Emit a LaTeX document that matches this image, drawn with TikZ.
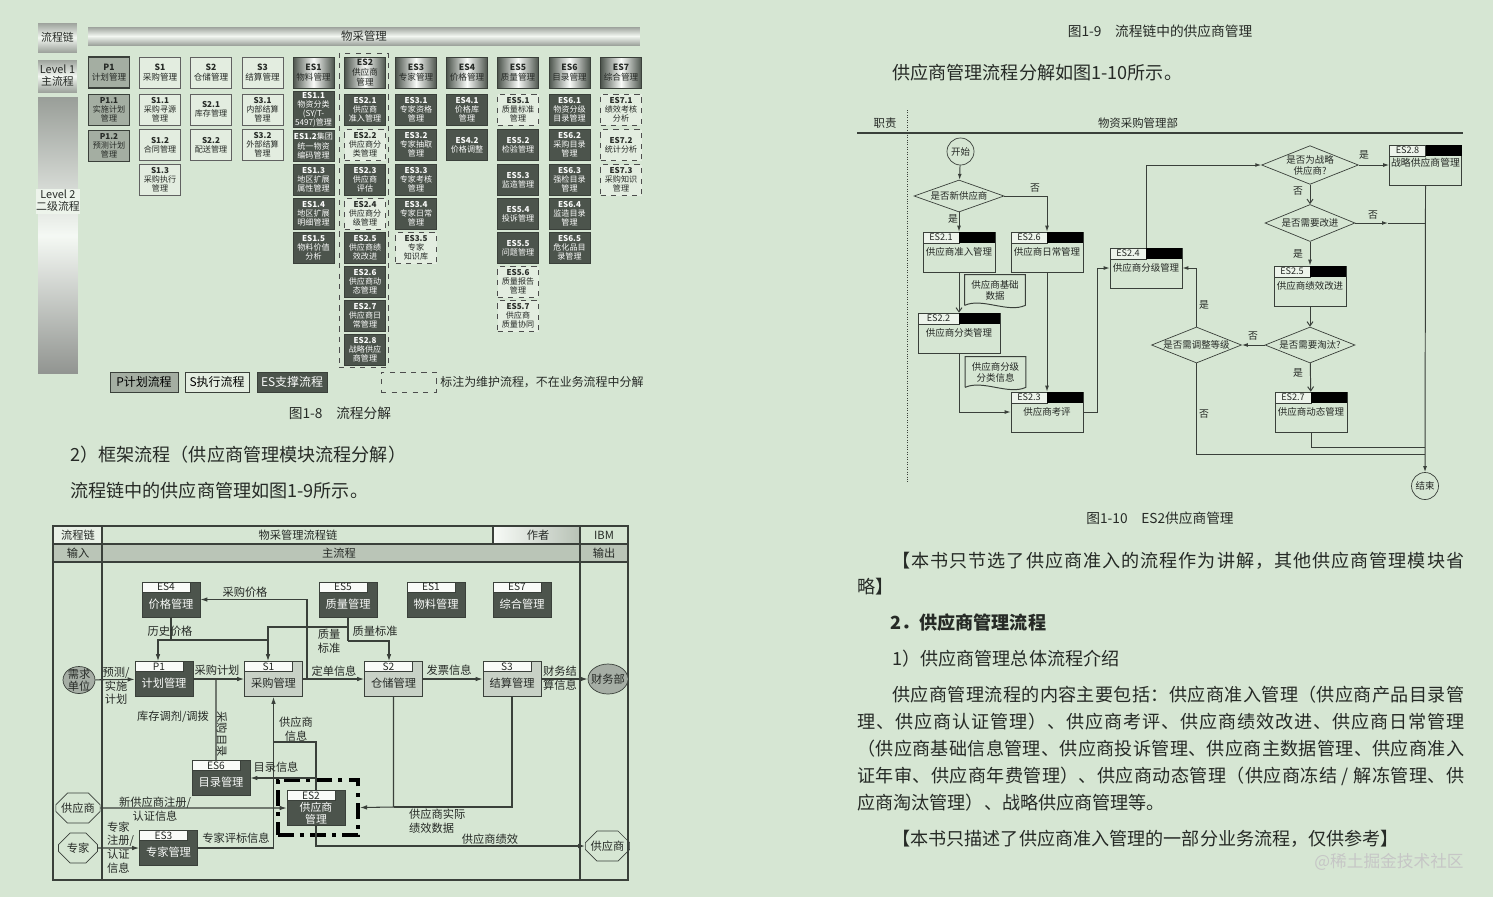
\documentclass[tikz,border=0pt]{standalone}
\usepackage{fontspec}
\setmainfont{Noto Sans CJK SC}
\usetikzlibrary{arrows.meta,positioning,shapes.geometric,shapes.misc,calc}

\definecolor{bgc}{HTML}{D6E6D3}
\definecolor{linec}{HTML}{3A403A}
\definecolor{esdark}{HTML}{4C544C}
\definecolor{pgray}{HTML}{A4AEA2}
\definecolor{sfill}{HTML}{E3EDE0}
\definecolor{hgray}{HTML}{BAC5B7}
\definecolor{sgray}{HTML}{C8D1C6}
\definecolor{txtc}{HTML}{262A26}

\ExplSyntaxOn
\NewDocumentCommand \spreadline { m m }
  { \makebox [#1] [s] { \tl_map_inline:nn {#2} { ##1 \hskip 0pt plus 1fil } \unskip } }
\ExplSyntaxOff

\begin{document}
\begin{tikzpicture}[x=0.02cm, y=-0.02cm,
  % Fig 1-8
  lvone/.style={rectangle, draw=linec, minimum width=0.82cm, minimum height=0.62cm,
    inner sep=0.4pt, align=center, text=txtc, font=\fontsize{4.9}{5.7}\selectfont},
  lvtwo/.style={lvone, font=\fontsize{4.6}{5.2}\selectfont},
  pbox/.style={fill=pgray},
  sbox/.style={fill=sfill, draw=gray!75!black},
  esbox/.style={fill=esdark, text=white!90!bgc},
  esgrad/.style={left color=esdark, right color=esdark, middle color=white!85!bgc},
  mbox/.style={fill=sfill, draw=gray!60!black, dashed},
  sidetext/.style={rectangle, minimum width=0.78cm, align=center, inner sep=0pt,
    text=txtc, font=\fontsize{6.2}{6.8}\selectfont},
  sidebox/.style={sidetext,
    top color=gray!65!bgc, bottom color=gray!65!bgc, middle color=white!70!bgc},
  lgd/.style={rectangle, draw=linec, minimum height=0.4cm, inner sep=0pt,
    font=\fontsize{6.8}{7.5}\selectfont},
  % Fig 1-9
  cbox/.style={rectangle, draw=linec, minimum width=1.16cm, minimum height=0.7cm,
    inner sep=0pt, font=\fontsize{6.4}{7.4}\selectfont},
  cdark/.style={cbox, fill=esdark, text=white!88!bgc, text height=0.35cm, text depth=0pt},
  clight/.style={cbox, fill=sgray, text=txtc, text height=0.35cm, text depth=0pt},
  chead/.style={rectangle, anchor=north west, draw=linec, fill=white!85!bgc,
    minimum width=0.96cm, minimum height=0.2cm, inner sep=0pt, text=txtc,
    font=\fontsize{5.8}{6}\selectfont},
  cend/.style={ellipse, draw=linec, fill=gray!55!bgc, inner sep=-2pt, align=center,
    text=txtc, font=\fontsize{6.4}{7}\selectfont},
  coct/.style={chamfered rectangle, chamfered rectangle xsep=3pt, draw=linec,
    minimum width=0.78cm, minimum height=0.6cm, inner sep=0pt, text=txtc,
    font=\fontsize{6.4}{7}\selectfont},
  es2frame/.style={rectangle, draw=black, line width=2.3pt,
    dash pattern=on 9pt off 3.5pt on 2.3pt off 3.5pt,
    minimum width=1.6cm, minimum height=1.1cm},
  clabel/.style={inner sep=0.5pt, align=center, text=txtc,
    font=\fontsize{6.4}{7.8}\selectfont},
  cline/.style={draw=linec, line width=0.6pt},
  carrow/.style={cline, -{Latex[length=4pt,width=2.6pt]}},
  % Fig 1-10
  fbox/.style={rectangle, draw=linec, minimum width=1.44cm, minimum height=0.8cm,
    inner sep=0pt, text=txtc, font=\fontsize{5.4}{6}\selectfont},
  fhead/.style={rectangle, anchor=north west, draw=linec, fill=white!55!bgc,
    minimum width=0.72cm, minimum height=0.22cm, inner sep=0pt, text=txtc,
    font=\fontsize{5.2}{5.5}\selectfont},
  fdia/.style={diamond, aspect=2.5, draw=linec, minimum width=1.8cm,
    minimum height=0.74cm, inner sep=0pt, align=center, text=txtc,
    font=\fontsize{5.4}{6.2}\selectfont},
  fcirc/.style={circle, draw=linec, minimum size=0.54cm, inner sep=0pt, text=txtc,
    font=\fontsize{5.4}{6}\selectfont},
  fdoc/.style={minimum width=1.2cm, minimum height=0.6cm, inner sep=0pt,
    align=center, text=txtc, font=\fontsize{5.4}{6.2}\selectfont},
  flabel/.style={inner sep=0.5pt, text=txtc, font=\fontsize{5.6}{6}\selectfont},
  fline/.style={draw=linec, line width=0.55pt},
  farrow/.style={fline, -{Latex[length=3.4pt,width=2.2pt]}},
  fvarrow/.style={fline, -{Straight Barb[length=2.4pt,width=3.4pt]}},
  % page text
  body/.style={anchor=west, inner sep=0pt, text=txtc,
    font=\fontsize{10.3}{12}\selectfont},
  capt/.style={inner sep=0pt, text=txtc, font=\fontsize{7.8}{9}\selectfont}
]
  \fill[bgc] (0,0) rectangle (1493,897);
  \useasboundingbox (0,0) rectangle (1493,897);

  % ---------- Fig 1-8 ----------
  \node[sidebox, minimum height=0.58cm] (flc) at (57.5,37.5) {流程链};
  \node[sidebox, minimum height=0.36cm, minimum width=11.04cm,
    font=\fontsize{6.5}{7}\selectfont] (fwc) at (364,36) {物采管理};
  \node[sidebox, minimum height=0.64cm] (flv1) at (57.5,76) {Level 1\\主流程};
  \node[rectangle, minimum width=0.8cm, minimum height=5.54cm,
    top color=gray!70!bgc, bottom color=gray!80!bgc, middle color=white!75!bgc]
    (flv2bar) at (58,235.5) {};
  \node[sidetext, fill=white!55!bgc, minimum height=0.5cm] (flv2)
    at (58,201) {Level 2\\二级流程};

  \node[draw=gray!60!black, dashed, minimum width=0.98cm, minimum height=6.28cm]
    (es2grp) at (363.5,210) {};

  \node[lvone, pbox, thick] (lp1) at (109,72.5) {\textbf{P1}\\计划管理};
  \node[lvone, sbox] (ls1) at (160,72.5) {\textbf{S1}\\采购管理};
  \node[lvone, sbox] (ls2) at (211,72.5) {\textbf{S2}\\仓储管理};
  \node[lvone, sbox] (ls3) at (262.5,72.5) {\textbf{S3}\\结算管理};
  \node[lvone, esgrad] (les1) at (313.5,72.5) {\textbf{ES1}\\物料管理};
  \node[lvone, esgrad] (les2) at (365,72.5) {\textbf{ES2}\\供应商\\管理};
  \node[lvone, esgrad] (les3) at (416,72.5) {\textbf{ES3}\\专家管理};
  \node[lvone, esgrad] (les4) at (467,72.5) {\textbf{ES4}\\价格管理};
  \node[lvone, esgrad] (les5) at (518,72.5) {\textbf{ES5}\\质量管理};
  \node[lvone, esgrad] (les6) at (569.5,72.5) {\textbf{ES6}\\目录管理};
  \node[lvone, esgrad] (les7) at (621,72.5) {\textbf{ES7}\\综合管理};

  \node[lvtwo, pbox] (p11) at (109,109.5) {\textbf{P1.1}\\实施计划\\管理};
  \node[lvtwo, pbox] (p12) at (109,146) {\textbf{P1.2}\\预测计划\\管理};

  \node[lvtwo, sbox] (s11) at (160,109.5) {\textbf{S1.1}\\采购寻源\\管理};
  \node[lvtwo, sbox] (s12) at (160,145) {\textbf{S1.2}\\合同管理};
  \node[lvtwo, sbox] (s13) at (160,180) {\textbf{S1.3}\\采购执行\\管理};
  \node[lvtwo, sbox] (s21) at (211,109.5) {\textbf{S2.1}\\库存管理};
  \node[lvtwo, sbox] (s22) at (211,145) {\textbf{S2.2}\\配送管理};
  \node[lvtwo, sbox] (s31) at (262.5,109.5) {\textbf{S3.1}\\内部结算\\管理};
  \node[lvtwo, sbox] (s32) at (262.5,145) {\textbf{S3.2}\\外部结算\\管理};

  \node[lvtwo, esbox] (es11) at (313.5,109.5) {\textbf{ES1.1}\\物资分类\\(SY/T-\\5497)管理};
  \node[lvtwo, esbox] (es12) at (313.5,146) {\textbf{ES1.2}集团\\统一物资\\编码管理};
  \node[lvtwo, esbox] (es13) at (313.5,180) {\textbf{ES1.3}\\地区扩展\\属性管理};
  \node[lvtwo, esbox] (es14) at (313.5,214) {\textbf{ES1.4}\\地区扩展\\明细管理};
  \node[lvtwo, esbox] (es15) at (313.5,248) {\textbf{ES1.5}\\物料价值\\分析};

  \node[lvtwo, esbox] (es21) at (365,109.5) {\textbf{ES2.1}\\供应商\\准入管理};
  \node[lvtwo, mbox] (es22) at (365,145) {\textbf{ES2.2}\\供应商分\\类管理};
  \node[lvtwo, esbox] (es23) at (365,180) {\textbf{ES2.3}\\供应商\\评估};
  \node[lvtwo, mbox] (es24) at (365,214) {\textbf{ES2.4}\\供应商分\\级管理};
  \node[lvtwo, esbox] (es25) at (365,248) {\textbf{ES2.5}\\供应商绩\\效改进};
  \node[lvtwo, esbox] (es26) at (365,282) {\textbf{ES2.6}\\供应商动\\态管理};
  \node[lvtwo, esbox] (es27) at (365,316) {\textbf{ES2.7}\\供应商日\\常管理};
  \node[lvtwo, esbox] (es28) at (365,350) {\textbf{ES2.8}\\战略供应\\商管理};

  \node[lvtwo, esbox] (es31) at (416,109.5) {\textbf{ES3.1}\\专家资格\\管理};
  \node[lvtwo, esbox] (es32) at (416,145) {\textbf{ES3.2}\\专家抽取\\管理};
  \node[lvtwo, esbox] (es33) at (416,180) {\textbf{ES3.3}\\专家考核\\管理};
  \node[lvtwo, esbox] (es34) at (416,214) {\textbf{ES3.4}\\专家日常\\管理};
  \node[lvtwo, mbox] (es35) at (416,248) {\textbf{ES3.5}\\专家\\知识库};

  \node[lvtwo, esbox] (es41) at (467,109.5) {\textbf{ES4.1}\\价格库\\管理};
  \node[lvtwo, esbox] (es42) at (467,145) {\textbf{ES4.2}\\价格调整};

  \node[lvtwo, mbox] (es51) at (518,109.5) {\textbf{ES5.1}\\质量标准\\管理};
  \node[lvtwo, esbox] (es52) at (518,145) {\textbf{ES5.2}\\检验管理};
  \node[lvtwo, esbox] (es53) at (518,180) {\textbf{ES5.3}\\监造管理};
  \node[lvtwo, esbox] (es54) at (518,214) {\textbf{ES5.4}\\投诉管理};
  \node[lvtwo, esbox] (es55) at (518,248) {\textbf{ES5.5}\\问题管理};
  \node[lvtwo, mbox] (es56) at (518,282) {\textbf{ES5.6}\\质量报告\\管理};
  \node[lvtwo, mbox] (es57) at (518,316) {\textbf{ES5.7}\\供应商\\质量协同};

  \node[lvtwo, esbox] (es61) at (569.5,109.5) {\textbf{ES6.1}\\物资分级\\目录管理};
  \node[lvtwo, esbox] (es62) at (569.5,145) {\textbf{ES6.2}\\采购目录\\管理};
  \node[lvtwo, esbox] (es63) at (569.5,180) {\textbf{ES6.3}\\强检目录\\管理};
  \node[lvtwo, esbox] (es64) at (569.5,214) {\textbf{ES6.4}\\监造目录\\管理};
  \node[lvtwo, esbox] (es65) at (569.5,248) {\textbf{ES6.5}\\危化品目\\录管理};

  \node[lvtwo, mbox] (es71) at (621,109.5) {\textbf{ES7.1}\\绩效考核\\分析};
  \node[lvtwo, mbox] (es72) at (621,145) {\textbf{ES7.2}\\统计分析};
  \node[lvtwo, mbox] (es73) at (621,180) {\textbf{ES7.3}\\采购知识\\管理};

  % legend
  \node[lgd, fill=pgray, minimum width=1.36cm] (lgp) at (144,382) {P计划流程};
  \node[lgd, fill=sfill, minimum width=1.28cm] (lgs) at (217,382) {S执行流程};
  \node[lgd, fill=esdark, text=white!90!bgc, minimum width=1.4cm] (lges) at (292,382) {ES支撑流程};
  \node[lgd, dashed, draw=gray!60!black, minimum width=1.1cm] (lgm) at (408.5,382) {};
  \node[anchor=west, inner sep=0pt, text=txtc, font=\fontsize{6.8}{7.5}\selectfont]
    (lgt) at (440,382) {标注为维护流程，不在业务流程中分解};

  \node[capt] (cap18) at (340,413) {图1-8\quad 流程分解};
  \node[body] (tl1) at (70,455) {2）框架流程（供应商管理模块流程分解）};
  \node[body] (tl2) at (70,491) {流程链中的供应商管理如图1-9所示。};

  % ---------- Fig 1-9 ----------
  \fill[white!45!bgc] (53,526) rectangle (102,544);
  \shade[left color=white!80!bgc, right color=gray!35!bgc] (493,526) rectangle (580,544);
  \fill[hgray] (53,544) rectangle (628,562);
  \draw[linec, line width=0.8pt] (53,526) rectangle (628,880);
  \draw[linec, line width=0.6pt] (53,544) -- (628,544);
  \draw[linec, line width=0.6pt] (53,562) -- (628,562);
  \draw[linec, line width=0.6pt] (493,526) -- (493,544);
  \draw[linec, line width=1.2pt] (102,526) -- (102,880);
  \draw[linec, line width=1.2pt] (580,526) -- (580,880);

  \node[clabel] (hlc) at (78,535) {流程链};
  \node[clabel] (hwc) at (298,535) {物采管理流程链};
  \node[clabel] (hau) at (538,535) {作者};
  \node[clabel] (hibm) at (604,535) {IBM};
  \node[clabel] (hin) at (78,553) {输入};
  \node[clabel] (hmain) at (339,553) {主流程};
  \node[clabel] (hout) at (604,553) {输出};

  \node[cdark] (ces4) at (171,599.5) {价格管理};
  \node[chead] (ces4h) at (ces4.north west) {ES4};
  \node[cdark] (ces5) at (348,599.5) {质量管理};
  \node[chead] (ces5h) at (ces5.north west) {ES5};
  \node[cdark] (ces1) at (436,599.5) {物料管理};
  \node[chead] (ces1h) at (ces1.north west) {ES1};
  \node[cdark] (ces7) at (522,599.5) {综合管理};
  \node[chead] (ces7h) at (ces7.north west) {ES7};

  \node[cdark] (cp1) at (164,679) {计划管理};
  \node[chead] (cp1h) at (cp1.north west) {P1};
  \node[clight] (cs1) at (273.5,679) {采购管理};
  \node[chead] (cs1h) at (cs1.north west) {S1};
  \node[clight] (cs2) at (393.5,679) {仓储管理};
  \node[chead] (cs2h) at (cs2.north west) {S2};
  \node[clight] (cs3) at (512,679) {结算管理};
  \node[chead] (cs3h) at (cs3.north west) {S3};

  \node[cdark] (ces6) at (221,778) {目录管理};
  \node[chead] (ces6h) at (ces6.north west) {ES6};
  \node[cbox, fill=esdark] (ces2) at (316,808) {};
  \node[chead] (ces2h) at (ces2.north west) {ES2};
  \node[clabel, text=white!88!bgc, font=\fontsize{6.2}{7}\selectfont] (ces2t)
    at ([yshift=-0.1cm]ces2.center) {供应商\\管理};
  \node[es2frame] (ces2f) at (318,807.5) {};
  \node[cdark] (ces3) at (168.5,848) {专家管理};
  \node[chead] (ces3h) at (ces3.north west) {ES3};

  \node[cend, minimum width=0.64cm, minimum height=0.54cm] (cdem) at (79,680) {需求\\单位};
  \node[cend, minimum width=0.8cm, minimum height=0.6cm] (cfin) at (608,679) {财务部};
  \node[coct] (csup) at (78,808) {供应商};
  \node[coct] (cexp) at (78,848) {专家};
  \node[coct, minimum width=0.74cm] (csup2) at (607.5,846) {供应商};

  \coordinate (cj1) at (307,679);
  \coordinate (chp) at (171,640);
  \coordinate (chq) at (268,640);
  \coordinate (cqa) at (348,627);
  \coordinate (cqb) at (348,641);
  \coordinate (cjm) at (216,679);
  \coordinate (cji) at (273.5,742);
  \coordinate (cjc) at (316,778);
  \coordinate (cjp) at (393.5,807);

  \draw[carrow] (cj1) |- (ces4.east);
  \draw[cline] (ces4.south) -- (chp);
  \draw[carrow] (chp) -| ([xshift=-0.12cm]cp1.north);
  \draw[cline] (chp) -- (chq);
  \draw[cline] (ces5.south) -- (cqb);
  \draw[carrow] (cqa) -| ([xshift=-0.11cm]cs1.north);
  \draw[carrow] (cqb) -| ([xshift=-0.09cm]cs2.north);
  \draw[carrow] (cdem) -- (cp1);
  \draw[carrow] (cp1) -- (cs1);
  \draw[carrow] (cs1) -- (cs2);
  \draw[carrow] (cs2) -- (cs3);
  \draw[carrow] (cs3) -- (cfin);
  \draw[cline] (cjm) -- ([xshift=-0.1cm]ces6.north);
  \draw[carrow] (ces2.north) |- (cji) -- (cs1.south);
  \draw[cline] (ces3.east) -| (cji);
  \draw[carrow] (cjc) -- (ces6.east);
  \draw[carrow] (csup) -- (ces2);
  \draw[carrow] (cexp) -- (ces3);
  \draw[cline] (cs3.south) |- (cjp);
  \draw[carrow] (cs2.south) -- (cjp) -- (ces2f.east);
  \draw[carrow] (ces2.south) |- (csup2.west);

  \node[clabel] (lbcg) at (245,592) {采购价格};
  \node[clabel] (lbls) at (170,631) {历史价格};
  \node[clabel] (lbzl1) at (329,641) {质量\\标准};
  \node[clabel] (lbzl2) at (375,631) {质量标准};
  \node[clabel] (lbjh) at (217,670) {采购计划};
  \node[clabel] (lbdd) at (334,671) {定单信息};
  \node[clabel] (lbfp) at (449,670) {发票信息};
  \node[clabel] (lbcw) at (560,678) {财务结\\算信息};
  \node[clabel] (lbyc) at (116,686) {预测/\\实施\\计划};
  \node[clabel] (lbkc) at (173,717) {库存调剂/调拨};
  \node[clabel, rotate=-90] (lbml) at (222,734) {采购目录};
  \node[clabel] (lbgy) at (296,729) {供应商\\信息};
  \node[clabel] (lbmx) at (276,767) {目录信息};
  \node[clabel] (lbxz) at (155,809) {新供应商注册/\\认证信息};
  \node[clabel, anchor=west, align=left] (lbzj) at (106,847.5) {专家\\注册/\\认证\\信息};
  \node[clabel] (lbpb) at (236,838) {专家评标信息};
  \node[clabel, anchor=west, align=left] (lbsj) at (408,821) {供应商实际\\绩效数据};
  \node[clabel] (lbjx) at (490,839) {供应商绩效};

  % ---------- Fig 1-10 ----------
  \node[capt] (cap19) at (1160,31) {图1-9\quad 流程链中的供应商管理};
  \node[body] (tr1) at (892,73) {供应商管理流程分解如图1-10所示。};

  \node[flabel, font=\fontsize{6.5}{7}\selectfont] (fzz) at (885,123) {职责};
  \node[flabel, font=\fontsize{6.5}{7}\selectfont] (fbm) at (1138,123) {物资采购管理部};
  \draw[linec, line width=1pt] (857,133) -- (1463,133);
  \draw[linec, densely dotted] (907,110) -- (907,483);

  \node[fcirc] (fst) at (960.5,151.5) {开始};
  \node[fdia, minimum height=0.64cm] (fd1) at (959,196) {是否新供应商};

  \node[fbox] (fes21) at (959,252) {供应商准入管理};
  \node[fhead] (fes21h) at (fes21.north west) {ES2.1};
  \fill[black] (fes21h.north east) rectangle (fes21.east |- fes21h.south);
  \node[fbox] (fes26) at (1047,252) {供应商日常管理};
  \node[fhead] (fes26h) at (fes26.north west) {ES2.6};
  \fill[black] (fes26h.north east) rectangle (fes26.east |- fes26h.south);
  \node[fbox, minimum width=1.64cm] (fes22) at (959,333) {供应商分类管理};
  \node[fhead, minimum width=0.82cm] (fes22h) at (fes22.north west) {ES2.2};
  \fill[black] (fes22h.north east) rectangle (fes22.east |- fes22h.south);
  \node[fbox] (fes23) at (1047,412) {供应商考评};
  \node[fhead] (fes23h) at (fes23.north west) {ES2.3};
  \fill[black] (fes23h.north east) rectangle (fes23.east |- fes23h.south);
  \node[fbox] (fes24) at (1146,268) {供应商分级管理};
  \node[fhead] (fes24h) at (fes24.north west) {ES2.4};
  \fill[black] (fes24h.north east) rectangle (fes24.east |- fes24h.south);

  \node[fdoc] (fdoc1) at (995,290) {供应商基础\\数据};
  \draw[fline] (fdoc1.south west) -- (fdoc1.north west) -- (fdoc1.north east)
    -- (fdoc1.south east) .. controls +(-0.35cm,-0.16cm) and +(0.35cm,0.16cm) .. (fdoc1.south west);
  \node[fdoc] (fdoc2) at (995.5,372) {供应商分级\\分类信息};
  \draw[fline] (fdoc2.south west) -- (fdoc2.north west) -- (fdoc2.north east)
    -- (fdoc2.south east) .. controls +(-0.35cm,-0.16cm) and +(0.35cm,0.16cm) .. (fdoc2.south west);

  \node[fdia] (fd2) at (1310,165) {是否为战略\\供应商?};
  \node[fbox] (fes28) at (1425.5,165) {};
  \node[fhead] (fes28h) at (fes28.north west) {ES2.8};
  \fill[black] (fes28h.north east) rectangle (fes28.east |- fes28h.south);
  \node[flabel] (fes28t) at (1425.5,163) {战略供应商管理};
  \node[fdia] (fd3) at (1310,223) {是否需要改进};
  \node[fbox] (fes25) at (1310,286) {供应商绩效改进};
  \node[fhead] (fes25h) at (fes25.north west) {ES2.5};
  \fill[black] (fes25h.north east) rectangle (fes25.east |- fes25h.south);
  \node[fdia, minimum height=0.72cm] (fd4) at (1310,345) {是否需要淘汰?};
  \node[fdia, minimum height=0.72cm] (fd5) at (1196.5,345) {是否需调整等级};
  \node[fbox] (fes27) at (1311,412) {供应商动态管理};
  \node[fhead] (fes27h) at (fes27.north west) {ES2.7};
  \fill[black] (fes27h.north east) rectangle (fes27.east |- fes27h.south);
  \node[fcirc] (fend) at (1425,486) {结束};

  \coordinate (fk1) at (1097,412);
  \coordinate (fk2) at (1388,223);
  \coordinate (fk3) at (1425,223);
  \coordinate (fk4) at (1425,454);
  \coordinate (fk5) at (1425,447);

  \draw[farrow] (fst) -- (fd1);
  \draw[farrow] (fd1.south) -- (fes21.north);
  \draw[farrow] (fd1.east) -| (fes26.north);
  \draw[fvarrow] (fes21) -- (fes22);
  \draw[farrow] (fes22.south) |- (fes23.west);
  \draw[farrow] (fes26) -- (fes23);
  \draw[farrow] (fes23.east) -- (fk1) |- (fes24.west);
  \draw[farrow] (fes24.north) |- (fd2.west);
  \draw[farrow] (fd2) -- (fes28);
  \draw[fvarrow] (fd2) -- (fd3);
  \draw[farrow] (fd3.east) -- (fk2);
  \draw[fline] (fk2) -- (fk3);
  \draw[farrow] (fd3) -- (fes25);
  \draw[fvarrow] (fes25) -- (fd4);
  \draw[farrow] (fd4) -- (fd5);
  \draw[fvarrow] (fd4) -- (fes27);
  \draw[farrow] (fd5.north) |- (fes24.east);
  \draw[fline] (fd5.south) |- (fk4);
  \draw[fline] (fes27.south) |- (fk5);
  \draw[farrow] (fes28.south) -- (fend.north);

  \node[flabel] (fl1) at (953,219) {是};
  \node[flabel] (fl2) at (1035,188) {否};
  \node[flabel] (fl3) at (1364,155) {是};
  \node[flabel] (fl4) at (1298,191) {否};
  \node[flabel] (fl5) at (1373,215) {否};
  \node[flabel] (fl6) at (1298,254) {是};
  \node[flabel] (fl7) at (1204,305) {是};
  \node[flabel] (fl8) at (1253,336) {否};
  \node[flabel] (fl9) at (1298,373) {是};
  \node[flabel] (fl10) at (1204,414) {否};

  \node[capt] (cap110) at (1160,518) {图1-10\quad ES2供应商管理};

  % ---------- right page text ----------
  \node[body] (tb1) at (892,561) {\spreadline{11.44cm}{【本书只节选了供应商准入的流程作为讲解，其他供应商管理模块省}};
  \node[body] (tb2) at (857,587) {略】};
  \node[body, font=\fontsize{10.3}{12}\selectfont\bfseries] (tb3) at (890,623) {2．供应商管理流程};
  \node[body] (tb4) at (892,659) {1）供应商管理总体流程介绍};
  \node[body] (tb5) at (892,695) {\spreadline{11.44cm}{供应商管理流程的内容主要包括：供应商准入管理（供应商产品目录管}};
  \node[body] (tb6) at (857,722) {\spreadline{12.14cm}{理、供应商认证管理）、供应商考评、供应商绩效改进、供应商日常管理}};
  \node[body] (tb7) at (857,749) {\spreadline{12.14cm}{（供应商基础信息管理、供应商投诉管理、供应商主数据管理、供应商准入}};
  \node[body] (tb8) at (857,776) {\spreadline{12.14cm}{证年审、供应商年费管理）、供应商动态管理（供应商冻结\ /\ 解冻管理、供}};
  \node[body] (tb9) at (857,803) {应商淘汰管理）、战略供应商管理等。};
  \node[body] (tb10) at (892,839) {【本书只描述了供应商准入管理的一部分业务流程，仅供参考】};
  \node[inner sep=0pt, text=white!55!gray, font=\fontsize{9.5}{11}\selectfont]
    (wmk) at (1389,862) {@稀土掘金技术社区};
\end{tikzpicture}
\end{document}
